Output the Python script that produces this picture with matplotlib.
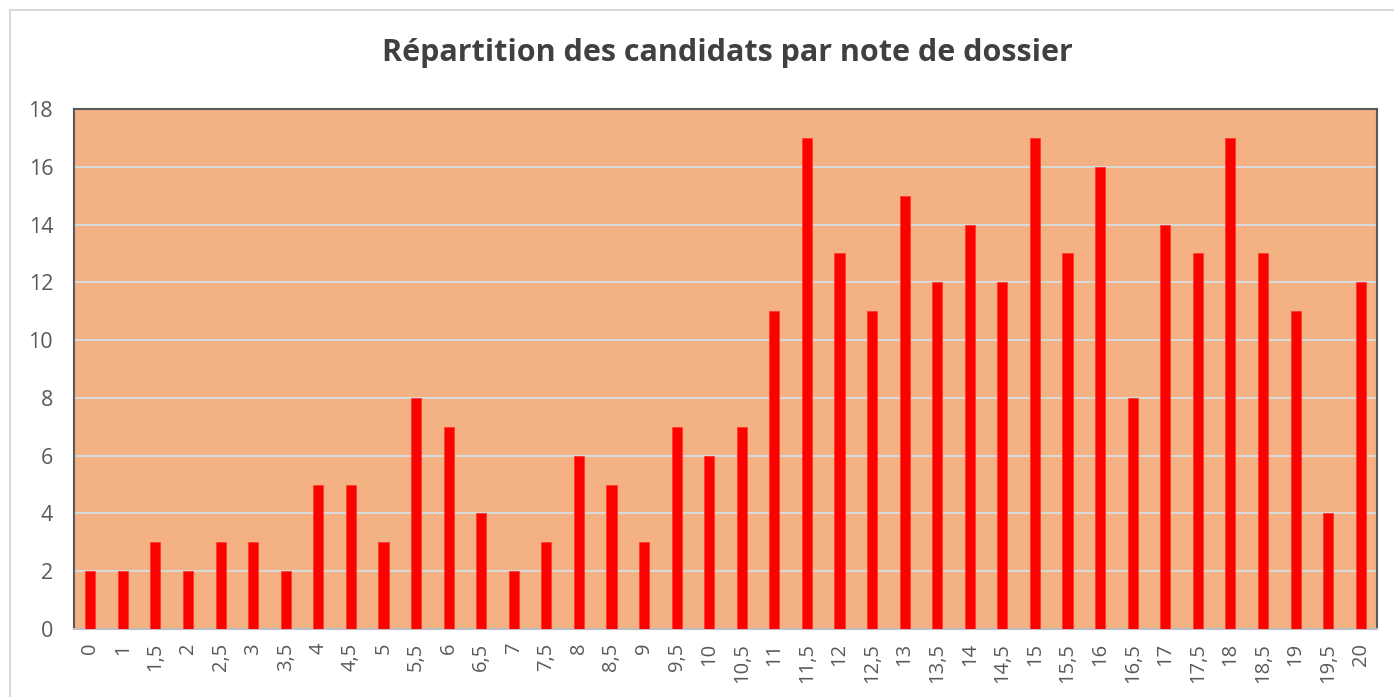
import numpy as np
import matplotlib.pyplot as plt
from matplotlib.patches import Rectangle

# notes de dossier (pas de 0,5)
notes = ["0", "1", "1,5", "2", "2,5", "3", "3,5", "4", "4,5", "5",
         "5,5", "6", "6,5", "7", "7,5", "8", "8,5", "9", "9,5", "10",
         "10,5", "11", "11,5", "12", "12,5", "13", "13,5", "14", "14,5", "15",
         "15,5", "16", "16,5", "17", "17,5", "18", "18,5", "19", "19,5", "20"]
candidats = [2, 2, 3, 2, 3, 3, 2, 5, 5, 3,
             8, 7, 4, 2, 3, 6, 5, 3, 7, 6,
             7, 11, 17, 13, 11, 15, 12, 14, 12, 17,
             13, 16, 8, 14, 13, 17, 13, 11, 4, 12]
yticks = [0, 2, 4, 6, 8, 10, 12, 14, 16, 18]

plt.rcParams['font.family'] = ['Open Sans', 'DejaVu Sans']

fig = plt.figure(figsize=(13.94, 6.97), dpi=100)
fig.patches.append(Rectangle((10 / 1394, -0.05), 1.2, 1.05 - 10 / 697,
                             transform=fig.transFigure, fill=False,
                             edgecolor='#d9d9d9', linewidth=1.5))

ax = fig.add_axes([74 / 1394, 1 - 629 / 697, (1377 - 74) / 1394, (629 - 109) / 697])
ax.set_facecolor('#f4b183')

x = np.arange(len(notes))
ax.bar(x, candidats, width=0.31, color='#ff0000', edgecolor='#ff3b2b',
       linewidth=0.6, zorder=3)

ax.set_xlim(-0.5, len(notes) - 0.5)
ax.set_ylim(0, 18)
ax.set_yticks(yticks)
ax.set_xticks(x)
ax.set_xticklabels(notes, rotation=90)
ax.tick_params(axis='both', length=0, colors='#595959', labelsize=15.5)
ax.tick_params(axis='x', labelsize=14.5, pad=10)
ax.tick_params(axis='y', pad=15)
ax.grid(axis='y', color='#d9d9d9', linewidth=1.5, zorder=1)

for s in ax.spines.values():
    s.set_color('#595959')
    s.set_linewidth(1.5)
ax.spines['bottom'].set_color('#bfbfbf')

fig.text(0.522, 1 - 53 / 697, "Répartition des candidats par note de dossier",
         ha='center', va='center', fontsize=22, fontweight='bold', color='#404040')

plt.savefig('out.png', dpi=100)
